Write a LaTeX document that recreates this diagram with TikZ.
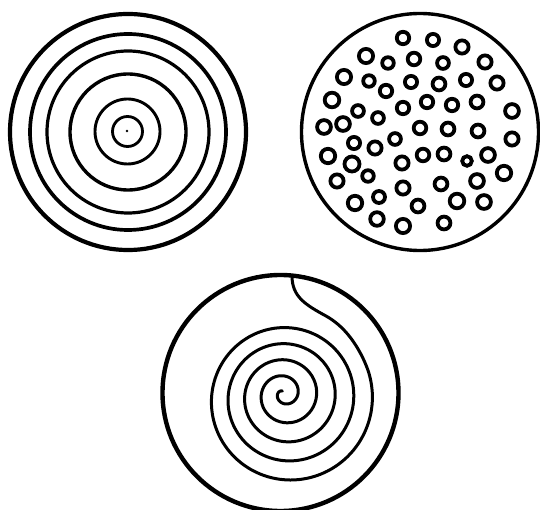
\documentclass[tikz,border=0pt]{standalone}
\begin{document}
\begin{tikzpicture}[x=1pt, y=-1pt,
        borde/.style={line width=3.8pt},
        anillo/.style={line width=3.2pt},
        grano/.style={line width=3.8pt},
        espiral/.style={line width=3pt, line cap=round, line join=round}]
    \useasboundingbox (0,0) rectangle (540,510);
    \draw[borde, line width=4.2pt] (128,132) circle[radius=118pt];
    \draw[anillo, line width=3.7pt] (128,132) circle[radius=98pt];
    \draw[anillo] (128,132) circle[radius=81pt];
    \draw[anillo, line width=3.4pt] (128,132) circle[radius=58pt];
    \draw[anillo, line width=2.9pt] (127.5,131.5) circle[radius=32.5pt];
    \draw[anillo, line width=2.8pt] (127.5,131.5) circle[radius=15pt];
    \fill (127,131) circle[radius=1.4pt];
    \draw[borde, line width=3.4pt] (420,132) circle[radius=118.5pt];
    \foreach \x/\y/\r in {403/38/6.2, 433/40/6.1, 462/47/6.6, 366/56/7.1, 388/63/5.8,
        414/59/6.3, 443/63/5.9, 485/62/6.6, 344/77/7.1, 369/81/5.8, 411/82/6.1,
        439/84/6.4, 466/80/6.1, 497/83/6.6, 332/100/7.3, 386/91/6.2, 358/111/5.9,
        403/108/6.2, 427/102/6.2, 452/105/6.2, 477/102/6.4, 512/111/6.9,
        324/127/6.9, 343/124/6.9, 378/118/5.9, 420/128/6.3, 448/129/6.4,
        478/131/6.4, 512/139/6.6, 354/143/6.1, 375/148/6.6, 395/139/5.9,
        328/156/7.2, 352/164/7.5, 368/176/5.8, 402/163/6.6, 423/155/6.3,
        444/154/6.4, 467/161/4.8, 488/155/6.9, 337/181/6.6, 379/197/6,
        403/188/6.6, 441/184/6.4, 477/181/6.9, 504/173/7.2, 355/203/7.2,
        418/206/6.4, 457/201/7.3, 484/202/6.9, 377/219/6.8, 403/226/7.1, 444/223/6.4}
        \draw[grano] (\x,\y) circle[radius=\r pt];
    \draw[borde, line width=4.4pt] (280.5,393) circle[radius=118pt];
    \draw[espiral] plot[smooth, domain=110:1827, samples=240, variable=\a]
        ({283+0.25*(\a-90)/90+(1+4.4*(\a-90)/90)*cos(\a)}, {393+0.375*(\a-90)/90-(1+4.4*(\a-90)/90)*sin(\a)})
        .. controls (356,343) and (344,326) .. (326,316)
        .. controls (306,305) and (292,297) .. (292,276);
\end{tikzpicture}
\end{document}
